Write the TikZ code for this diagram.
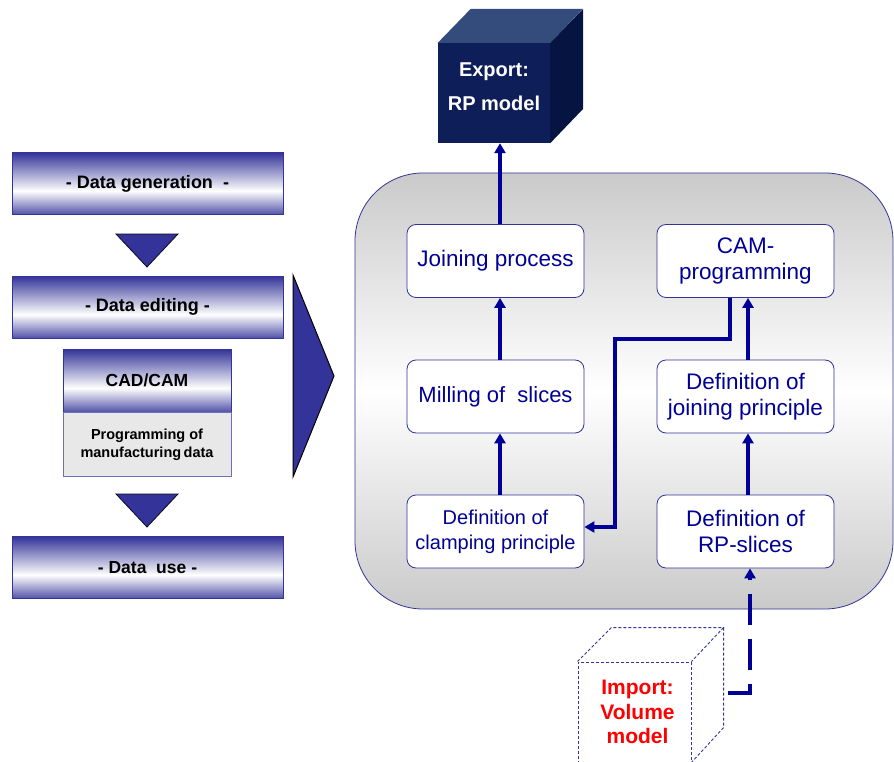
\documentclass[tikz,border=0pt]{standalone}
\usepackage{fontspec}
\setmainfont{Liberation Sans}
\usetikzlibrary{arrows.meta}
\definecolor{navy}{RGB}{0,0,150}
\definecolor{frame}{RGB}{51,51,153}
\definecolor{cubefront}{RGB}{14,30,88}
\definecolor{cubetop}{RGB}{52,76,124}
\definecolor{cubeside}{RGB}{6,20,66}
\definecolor{panelgray}{RGB}{202,202,202}
\definecolor{lightgray}{RGB}{232,232,232}
\definecolor{importred}{RGB}{255,0,0}

% blue bands at top and bottom, white band a little below the middle
\pgfdeclareverticalshading{stagefill}{100bp}{%
  color(0bp)=(frame!85); color(25bp)=(frame!85); color(44bp)=(white);
  color(75bp)=(frame); color(100bp)=(frame)}

\begin{document}
\begin{tikzpicture}[x=1pt,y=-1pt,
  stage/.style={draw=frame, line width=0.8pt, shading=stagefill,
    minimum width=271pt, minimum height=62pt, inner sep=0pt,
    font=\fontsize{18}{20}\selectfont\bfseries},
  cadhead/.style={draw=frame, line width=0.8pt, shading=stagefill,
    minimum width=168pt, minimum height=63pt, inner sep=0pt,
    font=\fontsize{17.5}{20}\selectfont\bfseries},
  cadbody/.style={draw=frame!70, line width=0.8pt, fill=lightgray, minimum width=168pt,
    minimum height=64pt, inner sep=0pt, align=center,
    font=\fontsize{14.5}{18}\selectfont\bfseries},
  marker/.style={fill=frame, draw=black!80!frame, line width=0.8pt},
  panel/.style={draw=frame, line width=0.8pt, top color=panelgray, bottom color=panelgray,
    middle color=white, rounded corners=68pt, minimum width=538pt, minimum height=436pt},
  stepbox/.style={draw=frame, line width=0.8pt, fill=white, rounded corners=9pt,
    minimum width=177pt, minimum height=73pt, inner sep=0pt, align=center, text=navy,
    font=\fontsize{22.5}{26}\selectfont},
  flow/.style={draw=navy, line width=3.5pt, -{Triangle[length=10pt,width=11pt]}},
  dashflow/.style={flow, dash pattern=on 31pt off 14pt},
  cubeedge/.style={draw=frame, line width=0.9pt, dash pattern=on 3pt off 2pt}
]
\useasboundingbox (0,0) rectangle (894,762);

% ---- left column: stages of the data chain ----
\node[stage] (gen)  at (147.5,183.5) {- Data generation\ \ -};
\draw[marker] (116,234) -- (178,234) -- (147,267) -- cycle;
\node[stage] (edit) at (147.5,307) {- Data editing -};
\node[cadhead] (cad) at (147,380.5) {CAD/CAM};
\node[cadbody, anchor=north] (prog) at (cad.south) {Programming of\\manufacturing\,data};
\draw[marker] (116,494) -- (178,494) -- (147,527) -- cycle;
\node[stage, font=\fontsize{17.5}{20}\selectfont\bfseries] (use) at (147.5,567.5) {- Data\ \ use -};

% large pointer into the detail panel
\draw[marker, draw=black, line width=1pt] (293,275) -- (334,376) -- (293,477) -- cycle;

% ---- detail panel ----
\node[panel] (pnl) at (624,391) {};

\node[stepbox] (jp)  at (495.5,261)   {Joining process};
\node[stepbox, font=\fontsize{22}{26}\selectfont] (ms) at (495.5,396.5) {Milling of\ \ slices};
\node[stepbox, font=\fontsize{20}{25}\selectfont] (cl) at (495.5,531.5) {Definition of\\clamping principle};
\node[stepbox] (cam) at (745.5,261)   {CAM-\\programming};
\node[stepbox] (dj)  at (745.5,396.5) {Definition of\\joining principle};
\node[stepbox] (rp)  at (745.5,531.5) {Definition of\\RP-slices};

% ---- export cube ----
\node[fill=cubefront, minimum width=112pt, minimum height=100pt, inner sep=0pt]
  (export) at (494,93) {};
\fill[cubetop] (export.north west) -- ++(33,-34) -- ++(112,0) -- (export.north east) -- cycle;
\fill[cubeside] (export.north east) -- ++(33,-34) -- ++(0,100) -- (export.south east) -- cycle;
\node[align=center, text=white, inner sep=0pt, font=\fontsize{20}{34}\selectfont\bfseries]
  (exportlabel) at ([yshift=6pt]export.center) {Export:\\RP model};

% ---- import cube ----
\node[cubeedge, fill=white, minimum width=113pt, minimum height=100pt, inner sep=0pt,
  align=center, text=importred, font=\fontsize{21}{24.5}\selectfont\bfseries]
  (import) at (634.5,712) {\hspace*{6pt}Import:\\\hspace*{6pt}Volume\\\hspace*{6pt}model};
\draw[cubeedge] (import.north west) -- ++(34,-34) -- ++(112,0) -- (import.north east);
\draw[cubeedge] (import.north west) ++(146,-34) -- ++(0,100) -- (import.south east);

% ---- connectors ----
\coordinate (bendA) at (615,339);
\coordinate (impout) at (728,693);

\draw[flow] ([xshift=4.5pt]jp.north) -- ([xshift=6pt]export.south);
\draw[flow] ([xshift=4.5pt]ms.north) -- ([xshift=4.5pt]jp.south);
\draw[flow] ([xshift=4.5pt]cl.north) -- ([xshift=4.5pt]ms.south);
\draw[flow] ([xshift=2.5pt]rp.north) -- ([xshift=2.5pt]dj.south);
\draw[flow] ([xshift=2.5pt]dj.north) -- ([xshift=2.5pt]cam.south);
\draw[flow] ([xshift=-15.5pt]cam.south) |- (bendA) |- ([yshift=4.5pt]cl.east);
\draw[dashflow] (impout) -| ([xshift=4.5pt]rp.south);
\end{tikzpicture}
\end{document}
